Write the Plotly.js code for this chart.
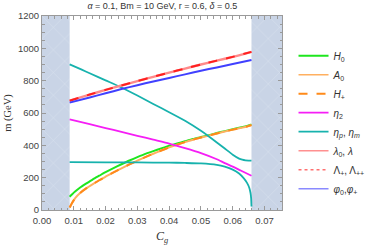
<!DOCTYPE html>
<html>
<head>
<meta charset="utf-8">
<script src="https://cdn.plot.ly/plotly-3.0.1.min.js"></script>
<style>html,body{margin:0;padding:0;background:#fff}#chart{width:382px;height:245px}</style>
</head>
<body>
<div id="chart"></div>
<script>
// ---- data ----
const gapLow = 0.0087;   // excluded region 0 .. gapLow
const gapHigh = 0.0659;  // excluded region gapHigh .. end
const xMax = 0.0755;

const xH0 = [0.0087, 0.0095, 0.0105, 0.012, 0.014, 0.016, 0.018, 0.020, 0.0225, 0.025, 0.0275, 0.030, 0.0325, 0.035, 0.0375, 0.040, 0.0425, 0.045, 0.0475, 0.050, 0.0525, 0.055, 0.0575, 0.060, 0.062, 0.0635, 0.0645, 0.0652, 0.0657, 0.0659];
const mH0 = [82, 98, 116, 139, 165, 190, 212, 234, 259, 283, 306, 327, 347, 364, 381, 397, 411, 425, 439, 451, 463, 476, 488, 500, 509, 515, 520, 524, 527, 528];
const mA0 = [15, 45, 75, 105, 135, 160, 184, 206, 233, 258, 282, 305, 327, 348, 368, 387, 404, 420, 435, 448, 460, 473, 485, 497, 506, 512, 517, 521, 524, 525];
const mHp = mA0;

const xEta2 = [0.0087, 0.015, 0.020, 0.025, 0.030, 0.035, 0.040, 0.045, 0.050, 0.055, 0.0575, 0.060, 0.0625, 0.0659];
const mEta2 = [561, 531, 507, 483, 459, 435, 411, 383, 352, 314, 290, 268, 244, 212];

const xEtaP = [0.0087, 0.0125, 0.015, 0.020, 0.025, 0.030, 0.035, 0.040, 0.045, 0.050, 0.0525, 0.055, 0.0575, 0.060, 0.062, 0.063, 0.064, 0.065, 0.0659];
const mEtaP = [901, 868, 846, 802, 758, 708, 656, 605, 552, 490, 455, 418, 380, 342, 318, 311, 307, 305.5, 305];

const xEtaM = [0.0087, 0.020, 0.030, 0.040, 0.045, 0.050, 0.055, 0.0575, 0.060, 0.062, 0.0635, 0.0645, 0.0652, 0.0656, 0.0658, 0.0659];
const mEtaM = [296, 295, 294, 293, 291, 288, 279, 268, 250, 226, 196, 168, 138, 105, 70, 22];

const xLin = [0.0087, 0.015, 0.020, 0.025, 0.030, 0.035, 0.040, 0.045, 0.050, 0.055, 0.060, 0.0659];
const mLam = [676, 714, 743, 770, 797, 824, 850, 875, 900, 924, 947, 978];
const mPhi = [664, 696, 722, 748, 772, 795, 817, 839, 861, 882, 903, 928];

const xTicks = [0, 0.01, 0.02, 0.03, 0.04, 0.05, 0.06, 0.07];
const xTickText = ['0.00', '0.01', '0.02', '0.03', '0.04', '0.05', '0.06', '0.07'];
const yTicks = [0, 200, 400, 600, 800, 1000, 1200];

// ---- styles ----
const shadePattern = {shape: 'x', bgcolor: '#c9d4e6', fgcolor: '#dbe2ee', size: 16, solidity: 0.06};
function shade(a, b) {
  return {x: [a, b, b, a, a], y: [0, 0, 1200, 1200, 0], type: 'scatter', mode: 'lines',
    fill: 'toself', fillcolor: '#c9d4e6', fillpattern: shadePattern,
    line: {width: 0, color: 'rgba(0,0,0,0)'}, showlegend: false, hoverinfo: 'skip'};
}
function curve(x, y, color, width, dash, name, show) {
  return {x: x, y: y, type: 'scatter', mode: 'lines', name: name, showlegend: show,
    line: {color: color, width: width, dash: dash || 'solid', shape: 'spline', smoothing: 0.5}};
}
function legendOnly(color, width, dash, name) {
  return {x: [null], y: [null], type: 'scatter', mode: 'lines', name: name, showlegend: true,
    line: {color: color, width: width, dash: dash || 'solid'}};
}

const traces = [
  shade(0, gapLow),
  shade(gapHigh, xMax),
  curve(xH0, mH0, '#1ee61e', 2, 'solid', '<i>H</i><sub>0</sub>', true),
  curve(xH0, mA0, '#ffb060', 2, 'solid', '<i>A</i><sub>0</sub>', false),
  curve(xH0, mHp, '#ff8a1a', 2, 'dash', '<i>H</i><sub>+</sub>', false),
  curve(xEta2, mEta2, '#f51ef5', 1.8, 'solid', '<i>η</i><sub>2</sub>', true),
  curve(xEtaP, mEtaP, '#17b2ad', 1.8, 'solid', '<i>η</i><sub><i>p</i></sub>, <i>η</i><sub><i>m</i></sub>', true),
  curve(xEtaM, mEtaM, '#17b2ad', 1.8, 'solid', 'eta_m', false),
  curve(xLin, mLam, '#ff8a8a', 2.4, 'solid', 'lam', false),
  curve(xLin, mLam, '#ff2020', 2, 'dash', 'Lam', false),
  curve(xLin, mPhi, '#4040ff', 2, 'solid', 'phi', false),
  legendOnly('#ffb060', 1.4, 'solid', '<i>A</i><sub>0</sub>'),
  legendOnly('#ff8a1a', 2, 'dash', '<i>H</i><sub>+</sub>'),
  legendOnly('#ff9090', 1.6, 'solid', '<i>λ</i><sub>0</sub>, <i>λ</i>'),
  legendOnly('#ff7070', 1.4, 'dot', 'Λ<sub>+</sub>, Λ<sub>++</sub>'),
  legendOnly('#8a8aff', 1.6, 'solid', '<i>φ</i><sub>0</sub>,<i>φ</i><sub>+</sub>')
];
// legend order as in the reference
const order = [2, 11, 12, 5, 6, 13, 14, 15];
order.forEach((i, k) => { traces[i].legendrank = k + 1; });

const axisCommon = {
  showline: true, linecolor: '#9a9a9a', linewidth: 1, mirror: 'allticks',
  ticks: 'inside', ticklen: 4, tickcolor: '#9a9a9a', tickwidth: 1,
  showgrid: false, zeroline: false,
  tickfont: {family: 'Liberation Sans, Arial, sans-serif', size: 9.5, color: '#444'}
};

const layout = {
  width: 382, height: 245,
  margin: {l: 42, r: 91, t: 16, b: 35},
  paper_bgcolor: '#fff', plot_bgcolor: '#fff',
  title: {text: '<i>α</i> = 0.1, Bm = 10 GeV, r = 0.6, <i>δ</i> = 0.5',
    font: {family: 'Liberation Sans, Arial, sans-serif', size: 9, color: '#333'},
    x: 0.425, xanchor: 'center', y: 0.99, yanchor: 'top'},
  xaxis: Object.assign({}, axisCommon, {
    range: [0, xMax], tickvals: xTicks, ticktext: xTickText, ticklabelstandoff: 2,
    minor: {dtick: 0.002, ticks: 'inside', ticklen: 2.5, tickcolor: '#9a9a9a', showgrid: false},
    title: {text: '<i>C</i><sub><i>g</i></sub>', standoff: 6,
      font: {family: 'Liberation Serif, Times New Roman, serif', size: 12, color: '#333'}}
  }),
  yaxis: Object.assign({}, axisCommon, {
    range: [0, 1200], tickvals: yTicks,
    minor: {dtick: 50, ticks: 'inside', ticklen: 2.5, tickcolor: '#9a9a9a', showgrid: false},
    title: {text: 'm (GeV)', standoff: 4,
      font: {family: 'Liberation Serif, Times New Roman, serif', size: 10.5, color: '#333'}}
  }),
  legend: {x: 1.048, xanchor: 'left', y: 0.87, yanchor: 'top',
    font: {family: 'Liberation Sans, Arial, sans-serif', size: 10, color: '#333'},
    bgcolor: 'rgba(0,0,0,0)', itemwidth: 30, tracegroupgap: 0},
  showlegend: true
};

Plotly.newPlot('chart', traces, layout, {staticPlot: true, displayModeBar: false});
</script>
</body>
</html>
